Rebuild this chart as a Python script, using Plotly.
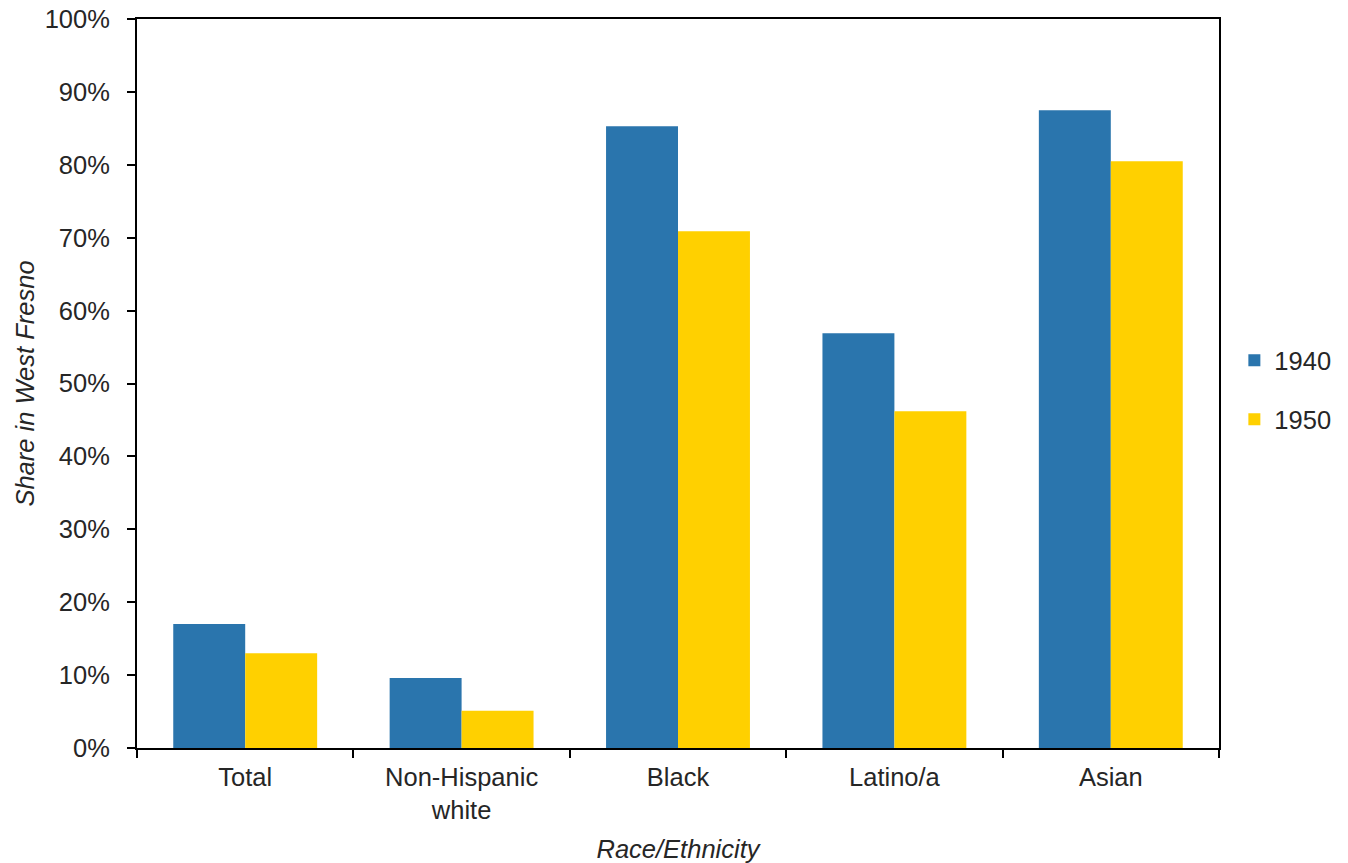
import plotly.graph_objects as go

categories = ["Total", "Non-Hispanic<br>white", "Black", "Latino/a", "Asian"]
share_1940 = [17.0, 9.6, 85.3, 56.9, 87.5]
share_1950 = [13.0, 5.1, 70.9, 46.2, 80.5]

BLUE = "#2A75AD"
YELLOW = "#FFD000"
TEXT = "#262626"
FONT = "Liberation Sans, Arial, sans-serif"
FS = 25.5

fig = go.Figure()
fig.add_trace(go.Bar(x=categories, y=share_1940, name="1940",
                     marker=dict(color=BLUE, line=dict(width=0)),
                     legendgroup="a"))
fig.add_trace(go.Bar(x=categories, y=share_1950, name="1950",
                     marker=dict(color=YELLOW, line=dict(width=0)),
                     legendgroup="b"))

fig.update_layout(
    width=1348, height=863,
    margin=dict(l=137, r=123, t=19, b=115),
    paper_bgcolor="white", plot_bgcolor="white",
    font=dict(family=FONT, size=FS, color=TEXT),
    barmode="group", bargap=0.335, bargroupgap=0,
    showlegend=True,
    legend=dict(x=1.0142, xanchor="left", y=0.491, yanchor="middle",
                font=dict(size=FS, color=TEXT), tracegroupgap=23,
                bgcolor="rgba(0,0,0,0)"),
)

fig.update_xaxes(
    automargin=False,
    showline=True, linecolor="black", linewidth=2, mirror=True,
    ticks="outside", tickson="boundaries", ticklen=8, tickwidth=2, tickcolor="black",
    showgrid=False,
    ticklabelstandoff=5,
    title=dict(text="<i>Race/Ethnicity</i>", standoff=21, font=dict(size=FS, color=TEXT)),
)
fig.update_yaxes(
    automargin=False,
    range=[0, 100], dtick=10, ticksuffix="%",
    showline=True, linecolor="black", linewidth=2, mirror=True,
    ticks="outside", ticklen=8, tickwidth=2, tickcolor="black",
    showgrid=False, zeroline=False,
    ticklabelstandoff=12,
    title=dict(text="<i>Share in West Fresno</i>", standoff=3, font=dict(size=FS, color=TEXT)),
)

fig.write_html("out.html")
